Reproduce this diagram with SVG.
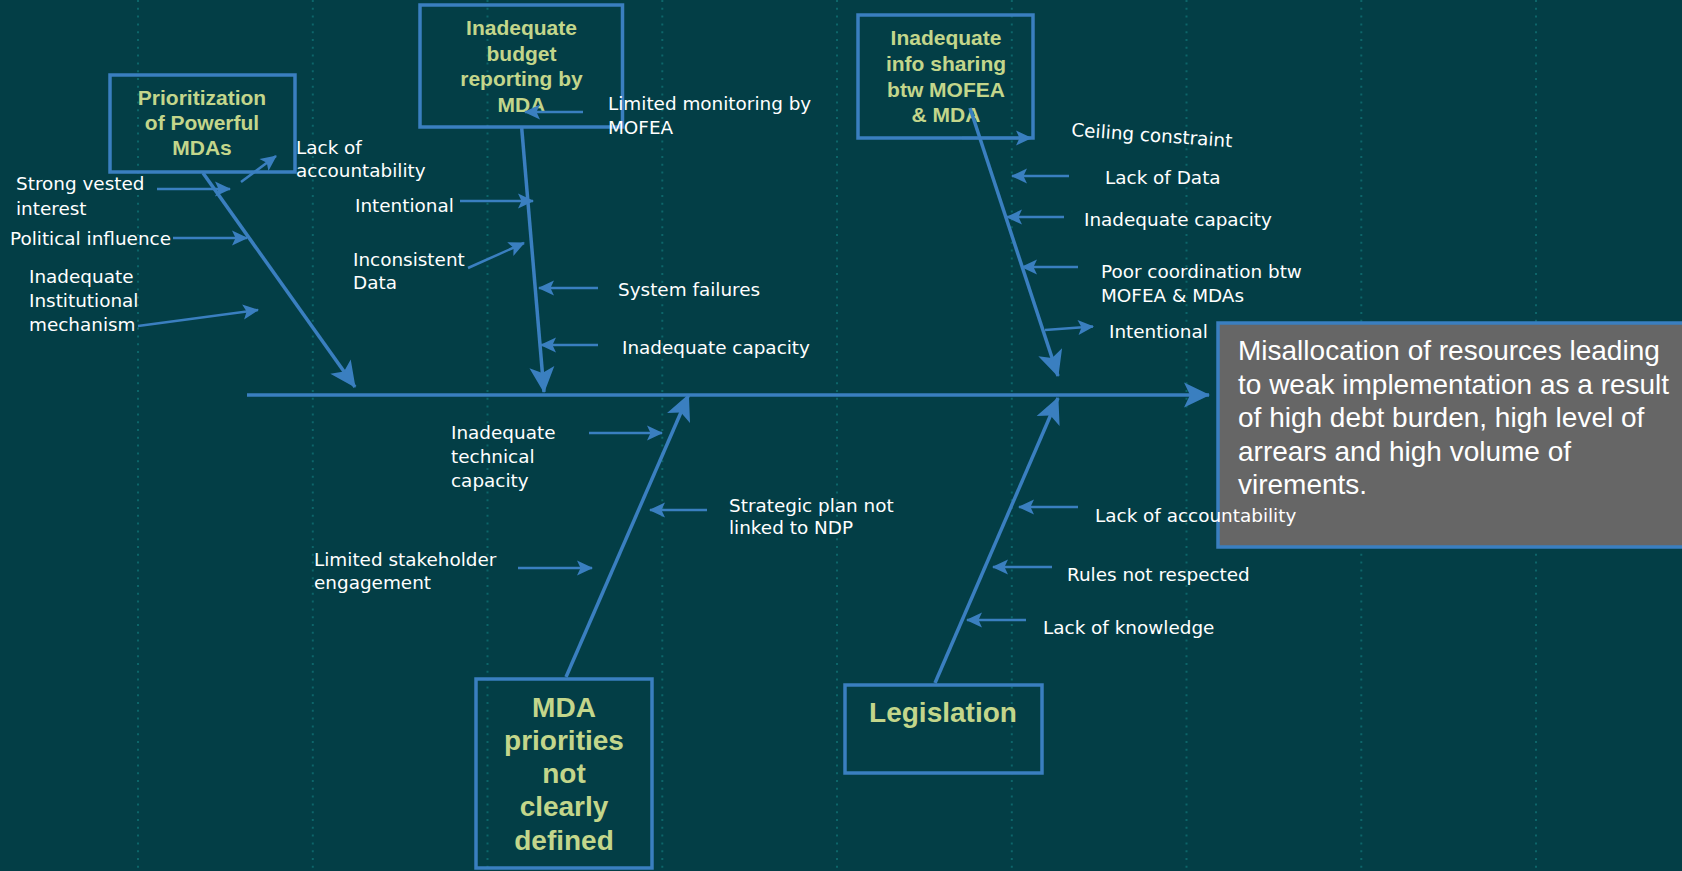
<svg xmlns="http://www.w3.org/2000/svg" width="1682" height="871" viewBox="0 0 1682 871">
<defs>
<style>
.bg{fill:#033e46}
.grid{stroke:#0d6569;stroke-width:2;stroke-dasharray:2 5.8}
.box{fill:none;stroke:#3a7fc0;stroke-width:3.5}
.bone{fill:none;stroke:#3a7fc0;stroke-width:3.5;marker-end:url(#big)}
.arr{fill:none;stroke:#3a7fc0;stroke-width:2.5;marker-end:url(#small)}
.cat{font-family:"Liberation Sans",Arial,sans-serif;font-weight:bold;fill:#c3d68b;text-anchor:middle}
.c21{font-size:21px}
.c28{font-size:28px}
.lbl{font-family:"DejaVu Sans","Liberation Sans",sans-serif;font-size:18.4px;fill:#ffffff}
.res{font-family:"Liberation Sans",Arial,sans-serif;font-size:28px;fill:#ffffff}
</style>
<marker id="big" markerUnits="userSpaceOnUse" markerWidth="30" markerHeight="30" refX="0" refY="0" orient="auto" overflow="visible">
<path d="M1,0 L-25,-12.5 L-19,0 L-25,12.5 Z" fill="#3a7fc0"/>
</marker>
<marker id="small" markerUnits="userSpaceOnUse" markerWidth="20" markerHeight="20" refX="0" refY="0" orient="auto" overflow="visible">
<path d="M1,0 L-15,-7.5 L-11.5,0 L-15,7.5 Z" fill="#3a7fc0"/>
</marker>
</defs>

<rect class="bg" x="0" y="0" width="1682" height="871"/>
<g id="grid">
<line class="grid" x1="138" y1="0" x2="138" y2="871"/>
<line class="grid" x1="312.8" y1="0" x2="312.8" y2="871"/>
<line class="grid" x1="487.5" y1="0" x2="487.5" y2="871"/>
<line class="grid" x1="662.3" y1="0" x2="662.3" y2="871"/>
<line class="grid" x1="837" y1="0" x2="837" y2="871"/>
<line class="grid" x1="1011.8" y1="0" x2="1011.8" y2="871"/>
<line class="grid" x1="1186.5" y1="0" x2="1186.5" y2="871"/>
<line class="grid" x1="1361.3" y1="0" x2="1361.3" y2="871"/>
<line class="grid" x1="1536" y1="0" x2="1536" y2="871"/>
</g>

<g id="effect">
<rect x="1218" y="323" width="470" height="224" fill="#666666" stroke="#3a7fc0" stroke-width="3.5"/>
<text class="res" x="1238" y="360">Misallocation of resources leading</text>
<text class="res" x="1238" y="393.5">to weak implementation as a result</text>
<text class="res" x="1238" y="427">of high debt burden, high level of</text>
<text class="res" x="1238" y="460.5">arrears and high volume of</text>
<text class="res" x="1238" y="494">virements.</text>
</g>

<g id="prioritization">
<rect class="box" x="110" y="75" width="185" height="97"/>
<text class="cat c21" x="202" y="105">Prioritization</text>
<text class="cat c21" x="202" y="130">of Powerful</text>
<text class="cat c21" x="202" y="155">MDAs</text>
</g>

<g id="budget-reporting">
<rect class="box" x="420" y="5" width="202.5" height="122"/>
<text class="cat c21" x="521.5" y="35">Inadequate</text>
<text class="cat c21" x="521.5" y="61">budget</text>
<text class="cat c21" x="521.5" y="86">reporting by</text>
<text class="cat c21" x="521.5" y="111.5">MDA</text>
</g>

<g id="info-sharing">
<rect class="box" x="858" y="15" width="175" height="123"/>
<text class="cat c21" x="946" y="45">Inadequate</text>
<text class="cat c21" x="946" y="70.5">info sharing</text>
<text class="cat c21" x="946" y="96.5">btw MOFEA</text>
<text class="cat c21" x="946" y="122">&amp; MDA</text>
</g>

<g id="mda-priorities">
<rect class="box" x="476" y="679" width="176" height="189"/>
<text class="cat c28" x="564" y="716.5">MDA</text>
<text class="cat c28" x="564" y="749.5">priorities</text>
<text class="cat c28" x="564" y="783">not</text>
<text class="cat c28" x="564" y="816">clearly</text>
<text class="cat c28" x="564" y="850">defined</text>
</g>

<g id="legislation">
<rect class="box" x="845" y="685" width="197" height="88"/>
<text class="cat c28" x="943" y="722">Legislation</text>
</g>

<g id="connectors">
<line class="bone" x1="247" y1="395" x2="1209" y2="395"/>
<line class="bone" x1="203" y1="173" x2="355" y2="387"/>
<line class="bone" x1="521.7" y1="128" x2="544" y2="392"/>
<line class="bone" x1="970" y1="108" x2="1058" y2="376"/>
<line class="bone" x1="566" y1="677" x2="688.5" y2="395"/>
<line class="bone" x1="935" y1="683" x2="1058" y2="398"/>

<line class="arr" x1="241" y1="182" x2="276" y2="156"/>
<line class="arr" x1="157" y1="189" x2="230" y2="189"/>
<line class="arr" x1="173" y1="238" x2="247" y2="238"/>
<line class="arr" x1="138" y1="326" x2="258" y2="310"/>
<line class="arr" x1="583" y1="112" x2="525" y2="112"/>
<line class="arr" x1="460" y1="201" x2="533" y2="201"/>
<line class="arr" x1="468" y1="268" x2="524" y2="243"/>
<line class="arr" x1="598" y1="288" x2="539" y2="288"/>
<line class="arr" x1="598" y1="345" x2="541" y2="345"/>
<line class="arr" x1="962" y1="138" x2="1031" y2="138"/>
<line class="arr" x1="1069" y1="176" x2="1012" y2="176"/>
<line class="arr" x1="1064" y1="217" x2="1007" y2="217"/>
<line class="arr" x1="1078" y1="267" x2="1022" y2="267"/>
<line class="arr" x1="1045" y1="330" x2="1093" y2="326.5"/>
<line class="arr" x1="589" y1="433" x2="662" y2="433"/>
<line class="arr" x1="707" y1="510" x2="650" y2="510"/>
<line class="arr" x1="518" y1="568" x2="592" y2="568"/>
<line class="arr" x1="1078" y1="507" x2="1019" y2="507"/>
<line class="arr" x1="1052" y1="567" x2="993" y2="567"/>
<line class="arr" x1="1026" y1="620" x2="967" y2="620"/>
</g>

<g id="labels">
<text class="lbl" x="296" y="154">Lack of</text>
<text class="lbl" x="296" y="177">accountability</text>
<text class="lbl" x="16" y="190">Strong vested</text>
<text class="lbl" x="16" y="215">interest</text>
<text class="lbl" x="10" y="245">Political influence</text>
<text class="lbl" x="29" y="283">Inadequate</text>
<text class="lbl" x="29" y="307">Institutional</text>
<text class="lbl" x="29" y="331">mechanism</text>
<text class="lbl" x="608" y="110">Limited monitoring by</text>
<text class="lbl" x="608" y="134">MOFEA</text>
<text class="lbl" x="355" y="212">Intentional</text>
<text class="lbl" x="353" y="266">Inconsistent</text>
<text class="lbl" x="353" y="289">Data</text>
<text class="lbl" x="618" y="296">System failures</text>
<text class="lbl" x="622" y="354">Inadequate capacity</text>
<text class="lbl" x="1071" y="136" transform="rotate(4 1071 136)">Ceiling constraint</text>
<text class="lbl" x="1105" y="184">Lack of Data</text>
<text class="lbl" x="1084" y="226">Inadequate capacity</text>
<text class="lbl" x="1101" y="278">Poor coordination btw</text>
<text class="lbl" x="1101" y="302">MOFEA &amp; MDAs</text>
<text class="lbl" x="1109" y="338">Intentional</text>
<text class="lbl" x="451" y="439">Inadequate</text>
<text class="lbl" x="451" y="463">technical</text>
<text class="lbl" x="451" y="487">capacity</text>
<text class="lbl" x="729" y="512">Strategic plan not</text>
<text class="lbl" x="729" y="534">linked to NDP</text>
<text class="lbl" x="314" y="566">Limited stakeholder</text>
<text class="lbl" x="314" y="589">engagement</text>
<text class="lbl" x="1095" y="522">Lack of accountability</text>
<text class="lbl" x="1067" y="581">Rules not respected</text>
<text class="lbl" x="1043" y="634">Lack of knowledge</text>
</g>
</svg>
